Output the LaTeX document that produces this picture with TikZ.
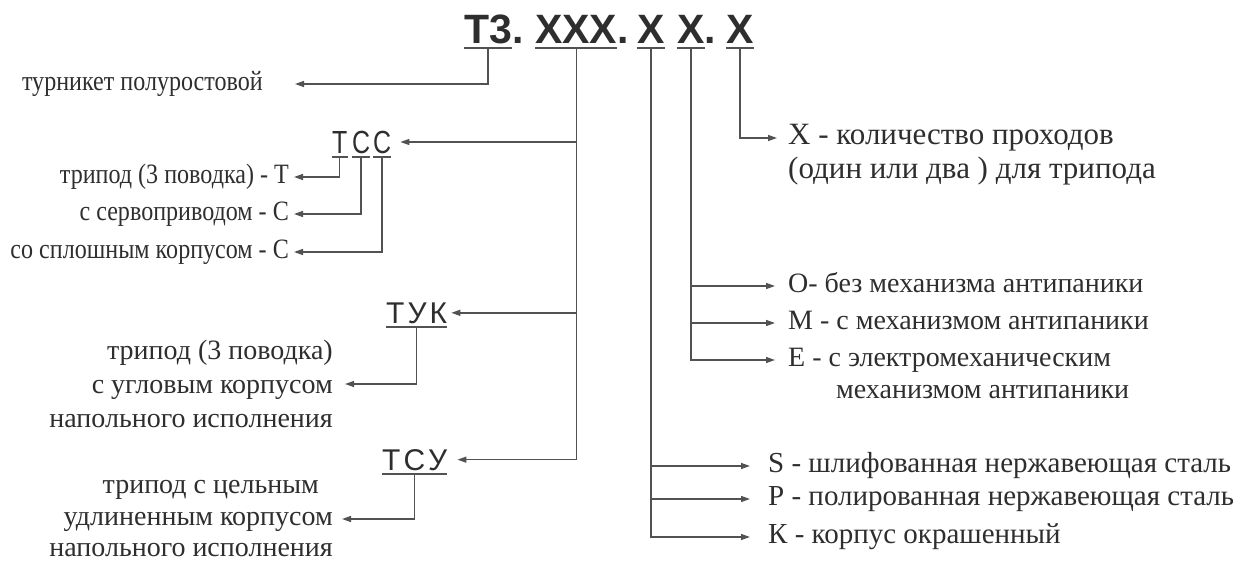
\documentclass[tikz,border=0pt]{standalone}
\usepackage{fontspec}
\setmainfont{Liberation Serif}
\setsansfont{Liberation Sans}
\usetikzlibrary{arrows.meta}
\definecolor{ink}{gray}{0.18}
\definecolor{linegray}{gray}{0.32}

\begin{document}
\begin{tikzpicture}[x=1pt,y=-1pt,
        txt/.style={font=\fontsize{28}{32}\selectfont,text=ink,inner sep=0pt,text height=19pt,text depth=7pt},
        narrow/.style={txt,xscale=0.86,transform shape},
        block/.style={font=\fontsize{28}{34}\selectfont,text=ink,inner sep=0pt,align=right,anchor=east},
        code/.style={font=\sffamily\fontsize{30}{30}\selectfont,text=ink,inner sep=0pt,anchor=base west},
        tall/.style={code,font=\sffamily\fontsize{32}{32}\selectfont,xscale=0.78,transform shape},
        uline/.style={draw=linegray,line width=2pt},
        link/.style={draw=linegray,line width=1.4pt,-{Triangle[length=9pt,width=6pt]}},
        elbow/.style={to path={|- (\tikztotarget)}}]
    \useasboundingbox (0,0) rectangle (1254,563);
    % header code
    \begin{scope}[every node/.style={font=\sffamily\bfseries\fontsize{41}{41}\selectfont,text=ink,inner sep=0pt,anchor=base west}]
        \node (t3) at (464,43) {Т3};
        \node (d1) at (t3.base east) {.};
        \node (xxx) at (535,43) {XXX};
        \node (d2) at (xxx.base east) {.};
        \node (xa) at (637,43) {X};
        \node (xb) at (677,43) {X};
        \node (d3) at (xb.base east) {.};
        \node (xc) at (726,43) {X};
    \end{scope}
    \foreach \n/\c in {t3/u1,xxx/u2,xa/u3,xb/u4,xc/u5} {
        \draw[uline] ([yshift=-5pt]\n.base west) -- ([yshift=-5pt]\n.base east);
        \coordinate (\c) at ([yshift=-5pt]\n.base);
    }
    % sub codes
    \node[tall] (tc1) at (332,153) {Т};
    \node[tall] (tc2) at (352,153) {С};
    \node[tall] (tc3) at (373,153) {С};
    \node[code] (tyk) at (386,323) {Т\hspace{3pt}У\hspace{3pt}К};
    \node[code] (tcy) at (382,470) {Т\hspace{3pt}С\hspace{3pt}У};
    \foreach \n/\c in {tc1/c1,tc2/c2,tc3/c3,tyk/c4,tcy/c5} {
        \draw[uline,line width=1.6pt] ([yshift=-4pt]\n.base west) -- ([yshift=-4pt]\n.base east);
        \coordinate (\c) at ([yshift=-4pt]\n.base);
    }
    % left texts
    \begin{scope}[every node/.style={narrow,anchor=east}]
        \node (turn) at (263,84) {турникет полуростовой};
        \node (tr1) at (289,177) {трипод (3 поводка) - Т};
        \node (tr2) at (289,214) {с сервоприводом - С};
        \node (tr3) at (289,252) {со сплошным корпусом - С};
    \end{scope}
    \node[block] (uk) at (333,384) {трипод (3 поводка)\\с угловым корпусом\\напольного исполнения};
    \node[block,font=\fontsize{28}{31.5}\selectfont] (cu) at (333,519) {трипод с цельным\hspace*{14pt}\\удлиненным корпусом\\напольного исполнения};
    % right texts
    \begin{scope}[every node/.style={txt,anchor=west}]
        \node[font=\fontsize{31}{34}\selectfont] (cnt) at (788,138) {X - количество проходов};
        \node[font=\fontsize{31}{34}\selectfont] (cnt2) at (788,172) {(один или два ) для трипода};
        \node (o) at (788,286) {О- без механизма антипаники};
        \node (m) at (788,323) {М - с механизмом антипаники};
        \node (e) at (788,360) {Е - с электромеханическим};
        \node (e2) at (836,392) {механизмом антипаники};
        \node[font=\fontsize{29}{32}\selectfont] (s) at (768,466) {S - шлифованная нержавеющая сталь};
        \node[font=\fontsize{29}{32}\selectfont] (p) at (768,499) {P - полированная нержавеющая сталь};
        \node[font=\fontsize{29}{32}\selectfont] (k) at (768,537) {К - корпус окрашенный};
    \end{scope}
    \begin{scope}[every edge/.style={link}]
        \path
            (u1) edge[elbow] ([xshift=32pt]turn.east)
            (u2) edge[elbow] ([xshift=10pt]tcy.east)
            (u2 |- tc3.east) edge ([xshift=9pt]tc3.east)
            (u2 |- tyk.east) edge ([xshift=4pt]tyk.east)
            (c1) edge[elbow] ([xshift=5pt]tr1.east)
            (c2) edge[elbow] ([xshift=5pt]tr2.east)
            (c3) edge[elbow] ([xshift=5pt]tr3.east)
            (c4) edge[elbow] ([xshift=12pt]uk.east)
            (c5) edge[elbow] ([xshift=9pt]cu.east)
            (u5) edge[elbow] ([xshift=-11pt]cnt.west)
            (u4) edge[elbow] ([xshift=-13pt]e.west)
            (u4 |- o.west) edge ([xshift=-13pt]o.west)
            (u4 |- m.west) edge ([xshift=-13pt]m.west)
            (u3) edge[elbow] ([xshift=-18pt]k.west)
            (u3 |- s.west) edge ([xshift=-18pt]s.west)
            (u3 |- p.west) edge ([xshift=-18pt]p.west);
    \end{scope}
\end{tikzpicture}
\end{document}
